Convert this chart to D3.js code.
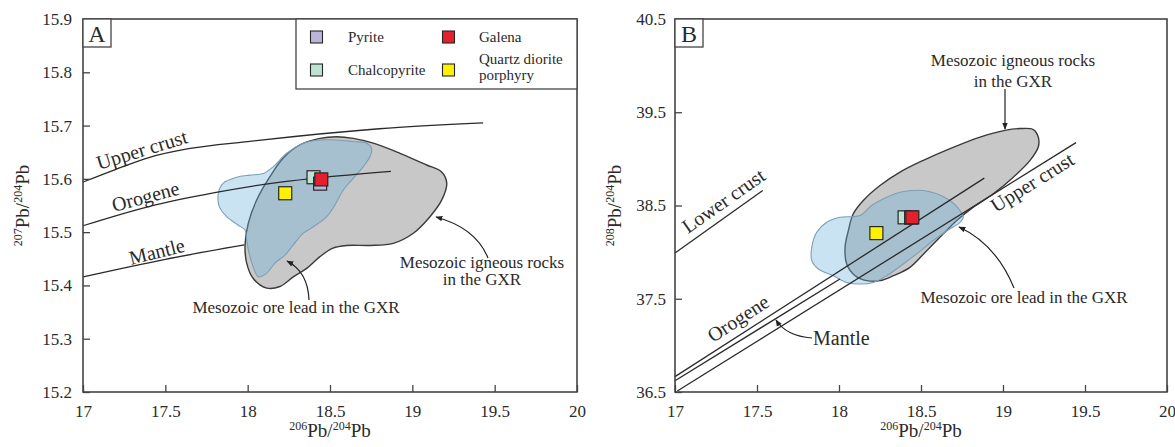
<!DOCTYPE html>
<html>
<head>
<meta charset="utf-8">
<script src="https://cdn.jsdelivr.net/npm/d3@7"></script>
<style>
body { margin: 0; background: #fff; }
svg text { font-family: "Liberation Serif", "Times New Roman", serif; fill: #2a2a2a; }
</style>
</head>
<body>
<svg width="1175" height="447"></svg>
<script>
// ticks
var xTicks = [17, 17.5, 18, 18.5, 19, 19.5, 20];
var yTicksA = [15.2, 15.3, 15.4, 15.5, 15.6, 15.7, 15.8, 15.9];
var yTicksB = [36.5, 37.5, 38.5, 39.5, 40.5];

// samples (drawn in this order, galena on top of pyrite / chalcopyrite)
var sampleNames = ["Chalcopyrite", "Pyrite", "Galena", "Quartz diorite porphyry"];
var sampleColors = ["#bfe3d3", "#bab6d9", "#e3202b", "#fff200"];
var pb206 = [18.40, 18.44, 18.447, 18.228];
var pb207 = [15.603, 15.591, 15.599, 15.573];
var pb208 = [38.373, 38.37, 38.373, 38.204];

// evolution curves, panel A (206/204, 207/204)
var upperCrustA = [[17, 15.594], [17.2, 15.618], [17.4, 15.640], [17.65, 15.657], [18, 15.670], [18.3, 15.680], [18.8, 15.694], [19.43, 15.705]];
var orogeneA = [[17, 15.512], [17.4, 15.548], [17.8, 15.574], [18.2, 15.594], [18.5, 15.604], [18.87, 15.614]];
var mantleA = [[17, 15.416], [17.5, 15.449], [17.98, 15.476]];

// evolution curves, panel B (206/204, 208/204)
var lowerCrustB = [[17, 37.99], [17.535, 38.66]];
var orogeneB = [[17, 36.665], [18.886, 38.794]];
var mantleB = [[17, 36.62], [18.006, 37.712]];
var upperCrustB = [[17.014, 36.511], [19.445, 39.174]];

// fields, panel A
var igneousA = [[17.984, 15.476], [17.994, 15.442], [18.034, 15.413], [18.116, 15.395], [18.196, 15.398], [18.277, 15.416],
  [18.358, 15.432], [18.439, 15.454], [18.518, 15.470], [18.601, 15.475], [18.743, 15.475], [18.884, 15.479],
  [19.006, 15.498], [19.107, 15.529], [19.178, 15.560], [19.209, 15.592], [19.178, 15.613], [19.087, 15.626],
  [18.925, 15.648], [18.763, 15.667], [18.641, 15.676], [18.540, 15.679], [18.439, 15.676], [18.318, 15.664],
  [18.216, 15.639], [18.135, 15.604], [18.054, 15.560], [18.004, 15.517]];
var oreLeadA = [[18.095, 15.610], [18.014, 15.607], [17.933, 15.603], [17.852, 15.592], [17.822, 15.573], [17.828, 15.548],
  [17.873, 15.529], [17.943, 15.513], [17.984, 15.504], [17.994, 15.485], [18.008, 15.461], [18.032, 15.436],
  [18.065, 15.416], [18.116, 15.423], [18.166, 15.442], [18.227, 15.457], [18.277, 15.476], [18.338, 15.498],
  [18.399, 15.510], [18.480, 15.529], [18.530, 15.551], [18.581, 15.579], [18.641, 15.601], [18.702, 15.623],
  [18.743, 15.642], [18.753, 15.657], [18.723, 15.667], [18.641, 15.670], [18.541, 15.673], [18.439, 15.673],
  [18.338, 15.667], [18.237, 15.648], [18.156, 15.623]];

// fields, panel B
var igneousB = [[19.215, 39.234], [19.185, 39.314], [19.104, 39.325], [19.012, 39.306], [18.860, 39.234], [18.677, 39.110],
  [18.514, 38.984], [18.372, 38.858], [18.250, 38.715], [18.148, 38.554], [18.087, 38.411], [18.057, 38.231],
  [18.037, 38.052], [18.047, 37.873], [18.098, 37.747], [18.169, 37.694], [18.250, 37.694], [18.331, 37.747],
  [18.433, 37.837], [18.535, 38.016], [18.636, 38.196], [18.718, 38.339], [18.819, 38.482], [18.941, 38.626],
  [19.063, 38.804], [19.165, 38.984], [19.215, 39.127]];
var oreLeadB = [[18.453, 38.661], [18.372, 38.643], [18.291, 38.589], [18.199, 38.500], [18.128, 38.392], [18.006, 38.374],
  [17.925, 38.320], [17.864, 38.213], [17.834, 38.052], [17.834, 37.909], [17.874, 37.819], [17.965, 37.747],
  [18.047, 37.675], [18.128, 37.658], [18.209, 37.675], [18.291, 37.747], [18.392, 37.873], [18.474, 37.981],
  [18.575, 38.124], [18.677, 38.250], [18.738, 38.320], [18.758, 38.374], [18.738, 38.446], [18.677, 38.554],
  [18.596, 38.626], [18.514, 38.661]];

var svg = d3.select("svg");

svg.append("defs").append("marker")
    .attr("id", "arrow")
    .attr("viewBox", "0 0 10 10")
    .attr("refX", 9).attr("refY", 5)
    .attr("markerWidth", 7).attr("markerHeight", 7)
    .attr("markerUnits", "userSpaceOnUse")
    .attr("orient", "auto")
  .append("path")
    .attr("d", "M0,1 L10,5 L0,9 z")
    .attr("fill", "#222");

var xA = d3.scaleLinear().domain([17, 20]).range([83, 577]);
var yA = d3.scaleLinear().domain([15.2, 15.9]).range([392, 19]);
var xB = d3.scaleLinear().domain([17, 20]).range([675, 1167]);
var yB = d3.scaleLinear().domain([36.5, 40.5]).range([392, 19]);

function drawAxes(x, y, yTicks, yPad, yNum, letter) {
    var left = x.range()[0], right = x.range()[1], top = y.range()[1], bottom = y.range()[0];

    var gx = svg.append("g")
        .attr("transform", "translate(0," + bottom + ")")
        .call(d3.axisBottom(x).tickValues(xTicks).tickSizeInner(-7).tickSizeOuter(0).tickPadding(13)
            .tickFormat(function(d) { return String(d); }));
    var gy = svg.append("g")
        .attr("transform", "translate(" + left + ",0)")
        .call(d3.axisLeft(y).tickValues(yTicks).tickSizeInner(-7).tickSizeOuter(0).tickPadding(yPad)
            .tickFormat(d3.format(".1f")));
    [gx, gy].forEach(function(g) {
        g.select(".domain").remove();
        g.selectAll(".tick line").attr("stroke", "#444").attr("stroke-width", 1.3);
        g.selectAll(".tick text").attr("font-size", 17).attr("font-family", "Liberation Serif").attr("fill", "#2a2a2a");
    });

    svg.append("rect")
        .attr("x", left).attr("y", top)
        .attr("width", right - left).attr("height", bottom - top)
        .attr("fill", "none").attr("stroke", "#444").attr("stroke-width", 1.6);

    // panel letter
    svg.append("rect")
        .attr("x", left).attr("y", top).attr("width", 28).attr("height", 28)
        .attr("fill", "#fff").attr("stroke", "#444").attr("stroke-width", 1.3);
    svg.append("text")
        .attr("x", left + 14).attr("y", top + 23)
        .attr("text-anchor", "middle").attr("font-size", 24)
        .text(letter);

    // x title
    var xt = svg.append("text")
        .attr("x", (left + right) / 2).attr("y", 437)
        .attr("text-anchor", "middle").attr("font-size", 19);
    xt.append("tspan").attr("font-size", 12).attr("dy", -7).text("206");
    xt.append("tspan").attr("dy", 7).text("Pb/");
    xt.append("tspan").attr("font-size", 12).attr("dy", -7).text("204");
    xt.append("tspan").attr("dy", 7).text("Pb");

    // y title
    var yt = svg.append("text")
        .attr("transform", "translate(" + (left - 54) + "," + (top + bottom) / 2 + ") rotate(-90)")
        .attr("text-anchor", "middle").attr("font-size", 19);
    yt.append("tspan").attr("font-size", 12).attr("dy", -7).text(yNum);
    yt.append("tspan").attr("dy", 7).text("Pb/");
    yt.append("tspan").attr("font-size", 12).attr("dy", -7).text("204");
    yt.append("tspan").attr("dy", 7).text("Pb");
}

function drawField(pts, x, y, fill, opacity, stroke, sw) {
    var line = d3.line().x(function(d) { return x(d[0]); }).y(function(d) { return y(d[1]); })
        .curve(d3.curveCatmullRomClosed.alpha(0.5));
    svg.append("path")
        .attr("d", line(pts))
        .attr("fill", fill).attr("fill-opacity", opacity)
        .attr("stroke", stroke).attr("stroke-width", sw);
}

function drawCurve(pts, x, y) {
    var line = d3.line().x(function(d) { return x(d[0]); }).y(function(d) { return y(d[1]); })
        .curve(d3.curveMonotoneX);
    svg.append("path")
        .attr("d", line(pts))
        .attr("fill", "none").attr("stroke", "#2a2a2a").attr("stroke-width", 1.3);
}

function label(txt, px, py, angle, size, anchor) {
    svg.append("text")
        .attr("transform", "translate(" + px + "," + py + ") rotate(" + angle + ")")
        .attr("font-size", size).attr("text-anchor", anchor || "start")
        .text(txt);
}

function arrow(d) {
    svg.append("path").attr("d", d)
        .attr("fill", "none").attr("stroke", "#222").attr("stroke-width", 1.2)
        .attr("marker-end", "url(#arrow)");
}

function drawSamples(x, y, ys) {
    svg.append("g").selectAll("rect")
        .data(sampleNames)
        .enter().append("rect")
        .attr("x", function(d, i) { return x(pb206[i]) - 6.5; })
        .attr("y", function(d, i) { return y(ys[i]) - 6.5; })
        .attr("width", 13).attr("height", 13)
        .attr("fill", function(d, i) { return sampleColors[i]; })
        .attr("stroke", "#262626").attr("stroke-width", 1.2);
}

// ---- Panel A ----
drawField(igneousA, xA, yA, "#c8c8c8", 1, "#3a3a3a", 1.4);
drawField(oreLeadA, xA, yA, "#6db2dc", 0.36, "#7d9fb4", 1.1);
drawCurve(upperCrustA, xA, yA);
drawCurve(orogeneA, xA, yA);
drawCurve(mantleA, xA, yA);
drawSamples(xA, yA, pb207);
drawAxes(xA, yA, yTicksA, 11, "207", "A");

label("Upper crust", 99, 170, -17, 20);
label("Orogene", 114, 212, -15, 20);
label("Mantle", 131, 265, -14, 20);
label("Mesozoic igneous rocks", 482, 268, 0, 17, "middle");
label("in the GXR", 482, 285, 0, 17, "middle");
label("Mesozoic ore lead in the GXR", 296, 313, 0, 17, "middle");
arrow("M488,258 Q476,228 436,217");
arrow("M309,300 Q308,272 287,261");

// legend
var legendPos = [[316.5, 70], [316.5, 37], [448.5, 37], [448.5, 70]];
svg.append("rect")
    .attr("x", 296).attr("y", 19).attr("width", 281).attr("height", 70)
    .attr("fill", "#fff").attr("stroke", "#444").attr("stroke-width", 1.3);
svg.append("g").selectAll("rect")
    .data(sampleNames)
    .enter().append("rect")
    .attr("x", function(d, i) { return legendPos[i][0] - 6; })
    .attr("y", function(d, i) { return legendPos[i][1] - 6; })
    .attr("width", 12).attr("height", 12)
    .attr("fill", function(d, i) { return sampleColors[i]; })
    .attr("stroke", "#262626").attr("stroke-width", 1.1);
label("Pyrite", 348, 42, 0, 15);
label("Chalcopyrite", 348, 75, 0, 15);
label("Galena", 479, 42, 0, 15);
label("Quartz diorite", 479, 64, 0, 15);
label("porphyry", 479, 80, 0, 15);

// ---- Panel B ----
drawField(igneousB, xB, yB, "#c8c8c8", 1, "#3a3a3a", 1.4);
drawField(oreLeadB, xB, yB, "#6db2dc", 0.36, "#7d9fb4", 1.1);
drawCurve(lowerCrustB, xB, yB);
drawCurve(orogeneB, xB, yB);
drawCurve(mantleB, xB, yB);
drawCurve(upperCrustB, xB, yB);
drawSamples(xB, yB, pb208);
drawAxes(xB, yB, yTicksB, 9, "208", "B");

label("Lower crust", 688, 234, -35, 20);
label("Orogene", 713, 343, -33, 20);
label("Upper crust", 996, 213, -32, 20);
label("Mantle", 813, 345, 0, 20);
label("Mesozoic igneous rocks", 1013, 66, 0, 17, "middle");
label("in the GXR", 1013, 87, 0, 17, "middle");
label("Mesozoic ore lead in the GXR", 1024, 303, 0, 17, "middle");
arrow("M1005,89 L1005,129");
arrow("M1014,288 Q996,244 959,227");
arrow("M812,338 Q786,336 776,320");
</script>
</body>
</html>
